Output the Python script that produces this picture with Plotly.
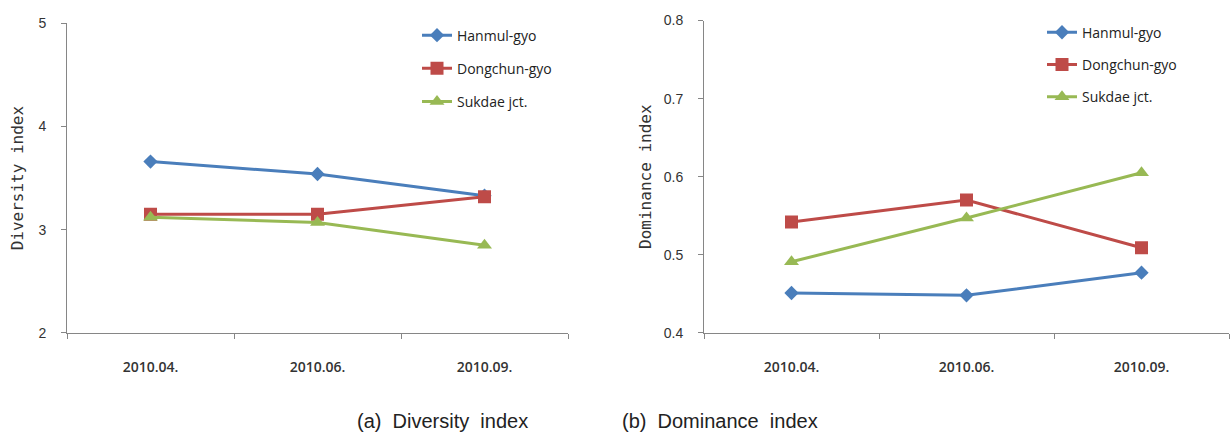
import plotly.graph_objects as go

# Sampling periods and sites
periods = ["2010.04.", "2010.06.", "2010.09."]
sites = ["Hanmul-gyo", "Dongchun-gyo", "Sukdae jct."]

# Diversity index per site
diversity_hanmul = [3.66, 3.54, 3.33]
diversity_dongchun = [3.15, 3.15, 3.32]
diversity_sukdae = [3.12, 3.07, 2.85]

# Dominance index per site
dominance_hanmul = [0.451, 0.448, 0.477]
dominance_dongchun = [0.542, 0.570, 0.509]
dominance_sukdae = [0.491, 0.547, 0.605]

colors = ["#4a7ebb", "#be4b48", "#98b954"]
symbols = ["diamond", "square", "triangle-up"]
sizes = [11, 13, 13]

W, H = 1232, 442

fig = go.Figure()

diversity = [diversity_hanmul, diversity_dongchun, diversity_sukdae]
dominance = [dominance_hanmul, dominance_dongchun, dominance_sukdae]

for i, name in enumerate(sites):
    fig.add_trace(go.Scatter(
        x=periods, y=diversity[i], name=name, mode="lines+markers",
        line=dict(color=colors[i], width=3),
        marker=dict(symbol=symbols[i], size=sizes[i], color=colors[i]),
        xaxis="x", yaxis="y", legend="legend", legendgroup="a%d" % i,
    ))
for i, name in enumerate(sites):
    fig.add_trace(go.Scatter(
        x=periods, y=dominance[i], name=name, mode="lines+markers",
        line=dict(color=colors[i], width=3),
        marker=dict(symbol=symbols[i], size=sizes[i], color=colors[i]),
        xaxis="x2", yaxis="y2", legend="legend2", legendgroup="b%d" % i,
    ))

axis_line = "#868686"
tick_font = dict(family="Liberation Sans", size=14, color="#333333")
xtick_font = dict(family="Open Sans", size=14, color="#333333", weight=600)
title_font = dict(family="DejaVu Sans Mono", size=16, color="#333333")


def px_x(p):
    return p / W


def px_y(p):
    return 1 - p / H


xaxis_common = dict(
    type="category", range=[-0.5, 2.5], tickson="boundaries",
    ticks="outside", ticklen=5, tickcolor=axis_line,
    showline=True, linecolor=axis_line, linewidth=1,
    showgrid=False, zeroline=False, tickfont=xtick_font, fixedrange=True,
    ticklabelstandoff=21,
)
yaxis_common = dict(
    ticks="outside", ticklen=5, tickcolor=axis_line,
    showline=True, linecolor=axis_line, linewidth=1,
    showgrid=False, zeroline=False, tickfont=tick_font, fixedrange=True,
    ticklabelstandoff=12,
)

fig.update_layout(
    width=W, height=H,
    margin=dict(l=0, r=0, t=0, b=0),
    paper_bgcolor="white", plot_bgcolor="white",
    xaxis=dict(domain=[px_x(67), px_x(568)], anchor="y", **xaxis_common),
    yaxis=dict(domain=[px_y(337), px_y(16)], anchor="x", range=[2, 5],
               dtick=1, tick0=2,
               title=dict(text="Diversity index", font=title_font, standoff=10),
               **yaxis_common),
    xaxis2=dict(domain=[px_x(704), px_x(1229)], anchor="y2", **xaxis_common),
    yaxis2=dict(domain=[px_y(337), px_y(13)], anchor="x2", range=[0.4, 0.8],
                dtick=0.1, tick0=0.4, tickformat=".1f",
                title=dict(text="Dominance index", font=title_font, standoff=8),
                **yaxis_common),
    legend=dict(x=px_x(417), y=px_y(12), xanchor="left", yanchor="top",
                font=dict(family="Open Sans", size=14, color="#222222"),
                tracegroupgap=12, bgcolor="rgba(0,0,0,0)"),
    legend2=dict(x=px_x(1042), y=px_y(9), xanchor="left", yanchor="top",
                 font=dict(family="Open Sans", size=14, color="#222222"),
                 tracegroupgap=11, bgcolor="rgba(0,0,0,0)"),
    annotations=[
        dict(text="(a)  Diversity  index", x=px_x(355), y=px_y(428),
             xref="paper", yref="paper", xanchor="left", yanchor="middle",
             showarrow=False,
             font=dict(family="Liberation Sans", size=20, color="#222222")),
        dict(text="(b)  Dominance  index", x=px_x(620), y=px_y(428),
             xref="paper", yref="paper", xanchor="left", yanchor="middle",
             showarrow=False,
             font=dict(family="Liberation Sans", size=20, color="#222222")),
    ],
)

fig.write_html("out.html")
